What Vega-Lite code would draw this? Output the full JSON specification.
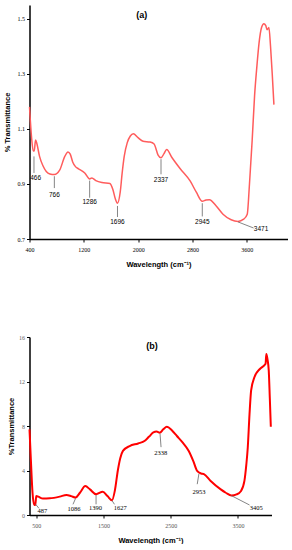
{
  "$schema": "https://vega.github.io/schema/vega-lite/v6.json",
  "padding": {"left": 2.5, "top": 5, "right": 0, "bottom": 0},
  "spacing": 66,
  "config": {
    "view": {"stroke": null},
    "axis": {"domainColor": "#000", "domainWidth": 1.5, "tickColor": "#000", "tickWidth": 1, "grid": false,
      "labelOverlap": false, "labelFlush": false, "labelBound": false,
      "labelFont": "Liberation Serif", "labelFontSize": 6, "labelColor": "#000",
      "titleFont": "Liberation Sans", "titleFontWeight": "bold", "titleFontSize": 7.5, "titleColor": "#000"}
  },
  "datasets": {
    "a": [
      {"wn": 400, "t": 1.18}, {"wn": 430, "t": 1.07}, {"wn": 455, "t": 1.02}, {"wn": 470, "t": 1.02}, {"wn": 489, "t": 1.06},
      {"wn": 510, "t": 1.045}, {"wn": 548, "t": 1.0}, {"wn": 600, "t": 0.965}, {"wn": 647, "t": 0.945}, {"wn": 700, "t": 0.936},
      {"wn": 766, "t": 0.934}, {"wn": 844, "t": 0.95}, {"wn": 920, "t": 1.0}, {"wn": 967, "t": 1.016}, {"wn": 1000, "t": 1.008},
      {"wn": 1036, "t": 0.98}, {"wn": 1080, "t": 0.962}, {"wn": 1121, "t": 0.955}, {"wn": 1214, "t": 0.94}, {"wn": 1286, "t": 0.918},
      {"wn": 1318, "t": 0.922}, {"wn": 1377, "t": 0.912}, {"wn": 1466, "t": 0.905}, {"wn": 1584, "t": 0.902}, {"wn": 1628, "t": 0.88},
      {"wn": 1665, "t": 0.845}, {"wn": 1696, "t": 0.83}, {"wn": 1736, "t": 0.87}, {"wn": 1765, "t": 0.94}, {"wn": 1795, "t": 1.0},
      {"wn": 1840, "t": 1.05}, {"wn": 1885, "t": 1.074}, {"wn": 1929, "t": 1.082}, {"wn": 1998, "t": 1.068}, {"wn": 2073, "t": 1.055},
      {"wn": 2176, "t": 1.052}, {"wn": 2235, "t": 1.045}, {"wn": 2294, "t": 1.005}, {"wn": 2337, "t": 0.995}, {"wn": 2381, "t": 1.01},
      {"wn": 2420, "t": 1.025}, {"wn": 2500, "t": 0.995}, {"wn": 2620, "t": 0.955}, {"wn": 2768, "t": 0.91}, {"wn": 2857, "t": 0.87},
      {"wn": 2945, "t": 0.837}, {"wn": 3000, "t": 0.842}, {"wn": 3050, "t": 0.843}, {"wn": 3150, "t": 0.82}, {"wn": 3250, "t": 0.79},
      {"wn": 3370, "t": 0.77}, {"wn": 3471, "t": 0.764}, {"wn": 3555, "t": 0.772}, {"wn": 3607, "t": 0.79}, {"wn": 3640, "t": 0.9},
      {"wn": 3680, "t": 1.06}, {"wn": 3715, "t": 1.22}, {"wn": 3750, "t": 1.33}, {"wn": 3780, "t": 1.41}, {"wn": 3820, "t": 1.47},
      {"wn": 3852, "t": 1.482}, {"wn": 3880, "t": 1.475}, {"wn": 3900, "t": 1.46}, {"wn": 3926, "t": 1.468}, {"wn": 3950, "t": 1.4},
      {"wn": 3975, "t": 1.3}, {"wn": 4000, "t": 1.188}
    ],
    "b": [
      {"wn": 400, "t": 7.7}, {"wn": 420, "t": 5.0}, {"wn": 445, "t": 2.0}, {"wn": 470, "t": 0.95}, {"wn": 487, "t": 0.9},
      {"wn": 500, "t": 1.7}, {"wn": 530, "t": 1.65}, {"wn": 600, "t": 1.48}, {"wn": 700, "t": 1.5}, {"wn": 850, "t": 1.65},
      {"wn": 950, "t": 1.8}, {"wn": 1020, "t": 1.7}, {"wn": 1086, "t": 1.57}, {"wn": 1150, "t": 2.0}, {"wn": 1230, "t": 2.6},
      {"wn": 1300, "t": 2.3}, {"wn": 1390, "t": 1.87}, {"wn": 1490, "t": 2.1}, {"wn": 1560, "t": 1.7}, {"wn": 1627, "t": 1.32},
      {"wn": 1670, "t": 2.2}, {"wn": 1714, "t": 4.0}, {"wn": 1750, "t": 5.1}, {"wn": 1790, "t": 5.76}, {"wn": 1890, "t": 6.2},
      {"wn": 2016, "t": 6.43}, {"wn": 2116, "t": 6.67}, {"wn": 2180, "t": 7.05}, {"wn": 2242, "t": 7.42}, {"wn": 2290, "t": 7.5},
      {"wn": 2338, "t": 7.4}, {"wn": 2390, "t": 7.7}, {"wn": 2443, "t": 7.93}, {"wn": 2520, "t": 7.6}, {"wn": 2593, "t": 7.1},
      {"wn": 2680, "t": 6.5}, {"wn": 2769, "t": 5.76}, {"wn": 2840, "t": 4.8}, {"wn": 2894, "t": 3.96}, {"wn": 2953, "t": 3.73},
      {"wn": 2995, "t": 3.67}, {"wn": 3095, "t": 3.06}, {"wn": 3245, "t": 2.3}, {"wn": 3320, "t": 2.0}, {"wn": 3405, "t": 1.75},
      {"wn": 3480, "t": 1.85}, {"wn": 3547, "t": 2.16}, {"wn": 3597, "t": 3.06}, {"wn": 3625, "t": 4.5}, {"wn": 3647, "t": 6.07},
      {"wn": 3673, "t": 9.07}, {"wn": 3697, "t": 11.2}, {"wn": 3747, "t": 12.4}, {"wn": 3823, "t": 13.1}, {"wn": 3899, "t": 13.5},
      {"wn": 3912, "t": 13.6}, {"wn": 3923, "t": 14.48}, {"wn": 3940, "t": 14.0}, {"wn": 3959, "t": 13.0}, {"wn": 3975, "t": 10.5},
      {"wn": 3990, "t": 7.93}
    ],
    "linesA": [
      {"x1": 466, "y1": 1.0, "x2": 466, "y2": 0.94},
      {"x1": 766, "y1": 0.928, "x2": 766, "y2": 0.885},
      {"x1": 1286, "y1": 0.912, "x2": 1286, "y2": 0.85},
      {"x1": 1696, "y1": 0.82, "x2": 1696, "y2": 0.78},
      {"x1": 2337, "y1": 0.99, "x2": 2337, "y2": 0.935},
      {"x1": 2945, "y1": 0.83, "x2": 2945, "y2": 0.782},
      {"x1": 3471, "y1": 0.762, "x2": 3700, "y2": 0.74}
    ],
    "annA": [
      {"x": 490, "y": 0.922, "label": "466", "bold": "normal"},
      {"x": 766, "y": 0.86, "label": "766", "bold": "normal"},
      {"x": 1286, "y": 0.834, "label": "1286", "bold": "bold"},
      {"x": 1696, "y": 0.76, "label": "1696", "bold": "bold"},
      {"x": 2337, "y": 0.913, "label": "2337", "bold": "bold"},
      {"x": 2945, "y": 0.763, "label": "2945", "bold": "bold"},
      {"x": 3810, "y": 0.737, "label": "3471", "bold": "bold"}
    ],
    "linesB": [
      {"x1": 487, "y1": 1.0, "x2": 540, "y2": 0.6},
      {"x1": 1086, "y1": 1.5, "x2": 1047, "y2": 0.96},
      {"x1": 1390, "y1": 1.8, "x2": 1390, "y2": 0.96},
      {"x1": 1627, "y1": 1.3, "x2": 1664, "y2": 0.96},
      {"x1": 2342, "y1": 7.3, "x2": 2357, "y2": 6.1},
      {"x1": 2920, "y1": 3.7, "x2": 2895, "y2": 2.77},
      {"x1": 3400, "y1": 1.75, "x2": 3673, "y2": 0.9}
    ],
    "annB": [
      {"x": 590, "y": 0.35, "label": "487", "bold": "bold"},
      {"x": 1062, "y": 0.5, "label": "1086", "bold": "normal"},
      {"x": 1380, "y": 0.6, "label": "1390", "bold": "bold"},
      {"x": 1750, "y": 0.6, "label": "1627", "bold": "bold"},
      {"x": 2352, "y": 5.6, "label": "2338", "bold": "bold"},
      {"x": 2920, "y": 2.1, "label": "2953", "bold": "normal"},
      {"x": 3772, "y": 0.6, "label": "3405", "bold": "bold"}
    ]
  },
  "vconcat": [
    {
      "width": 258,
      "height": 234,
      "layer": [
        {
          "data": {"name": "a"},
          "mark": {"type": "line", "color": "#ff5c5c", "strokeWidth": 1.5, "interpolate": "monotone"},
          "encoding": {
            "x": {"field": "wn", "type": "quantitative", "scale": {"domain": [400, 4200], "nice": false},
              "axis": {"title": "Wavelength (cm⁻¹)", "values": [400, 600, 800, 1000, 1200, 1400, 1600, 1800, 2000, 2200, 2400, 2600, 2800, 3000, 3200, 3400, 3600, 3800, 4000, 4200],
                "labelExpr": "datum.value % 400 === 0 && datum.value <= 4000 ? datum.label : ''",
                "tickSize": {"condition": {"test": "datum.value % 400 === 0", "value": 3}, "value": 2},
                "format": "d", "labelPadding": 4, "titlePadding": 8}},
            "y": {"field": "t", "type": "quantitative", "scale": {"domain": [0.7, 1.55], "nice": false, "zero": false},
              "axis": {"title": "% Transmittance", "values": [0.7, 0.75, 0.8, 0.85, 0.9, 0.95, 1.0, 1.05, 1.1, 1.15, 1.2, 1.25, 1.3, 1.35, 1.4, 1.45, 1.5, 1.55],
                "labelExpr": "abs(datum.value*10 - round(datum.value*10)) < 0.01 && datum.value < 1.52 ? format(datum.value, '.1f') : ''",
                "tickSize": {"condition": {"test": "abs(datum.value*10 - round(datum.value*10)) < 0.01", "value": 3}, "value": 2},
                "titlePadding": 6}}
          }
        },
        {
          "data": {"name": "linesA"},
          "mark": {"type": "rule", "color": "#666", "strokeWidth": 0.8},
          "encoding": {
            "x": {"field": "x1", "type": "quantitative"},
            "y": {"field": "y1", "type": "quantitative"},
            "x2": {"field": "x2"},
            "y2": {"field": "y2"}
          }
        },
        {
          "data": {"name": "annA"},
          "mark": {"type": "text", "font": "Liberation Sans", "fontSize": 6.5, "color": "#000"},
          "encoding": {
            "x": {"field": "x", "type": "quantitative"},
            "y": {"field": "y", "type": "quantitative"},
            "text": {"field": "label"},
            "fontWeight": {"field": "bold", "type": "nominal", "scale": null}
          }
        },
        {
          "data": {"values": [{"x": 2053, "y": 1.515, "label": "(a)"}]},
          "mark": {"type": "text", "font": "Liberation Sans", "fontSize": 9, "fontWeight": "bold", "color": "#000"},
          "encoding": {
            "x": {"field": "x", "type": "quantitative"},
            "y": {"field": "y", "type": "quantitative"},
            "text": {"field": "label"}
          }
        }
      ]
    },
    {
      "width": 242,
      "height": 178,
      "layer": [
        {
          "data": {"name": "b"},
          "mark": {"type": "line", "color": "#ff0000", "strokeWidth": 2, "interpolate": "monotone"},
          "encoding": {
            "x": {"field": "wn", "type": "quantitative", "scale": {"domain": [400, 4000], "nice": false},
              "axis": {"title": "Wavelength (cm⁻¹)", "values": [500, 750, 1000, 1250, 1500, 1750, 2000, 2250, 2500, 2750, 3000, 3250, 3500, 3750, 4000],
                "labelExpr": "datum.value % 500 === 0 ? datum.label : ''",
                "tickSize": {"condition": {"test": "datum.value % 500 === 0", "value": 3}, "value": 2},
                "format": "d", "labelPadding": 4, "titlePadding": 8, "labelColor": "#555"}},
            "y": {"field": "t", "type": "quantitative", "scale": {"domain": [0, 16], "nice": false},
              "axis": {"title": "%Transmittance", "values": [0, 1, 2, 3, 4, 5, 6, 7, 8, 9, 10, 11, 12, 13, 14, 15, 16],
                "labelExpr": "datum.value % 2 === 0 ? datum.label : ''",
                "tickSize": {"condition": {"test": "datum.value % 2 === 0", "value": 3}, "value": 2},
                "labelColor": "#666", "titlePadding": 3}}
          }
        },
        {
          "data": {"name": "linesB"},
          "mark": {"type": "rule", "color": "#666", "strokeWidth": 0.8},
          "encoding": {
            "x": {"field": "x1", "type": "quantitative"},
            "y": {"field": "y1", "type": "quantitative"},
            "x2": {"field": "x2"},
            "y2": {"field": "y2"}
          }
        },
        {
          "data": {"name": "annB"},
          "mark": {"type": "text", "font": "Liberation Serif", "fontSize": 6.5, "color": "#000"},
          "encoding": {
            "x": {"field": "x", "type": "quantitative"},
            "y": {"field": "y", "type": "quantitative"},
            "text": {"field": "label"},
            "fontWeight": {"field": "bold", "type": "nominal", "scale": null}
          }
        },
        {
          "data": {"values": [{"x": 2222, "y": 15.15, "label": "(b)"}]},
          "mark": {"type": "text", "font": "Liberation Sans", "fontSize": 9, "fontWeight": "bold", "color": "#000"},
          "encoding": {
            "x": {"field": "x", "type": "quantitative"},
            "y": {"field": "y", "type": "quantitative"},
            "text": {"field": "label"}
          }
        }
      ]
    }
  ]
}
